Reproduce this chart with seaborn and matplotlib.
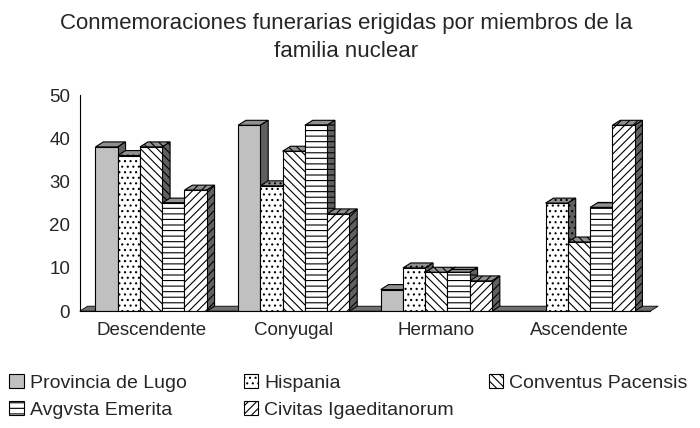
import pandas as pd
import numpy as np
import matplotlib.pyplot as plt
import seaborn as sns
from matplotlib.patches import Polygon, Patch

# datos
categorias = ['Descendente', 'Conyugal', 'Hermano', 'Ascendente']
series = ['Provincia de Lugo', 'Hispania', 'Conventus Pacensis',
          'Avgvsta Emerita', 'Civitas Igaeditanorum']
lugo = [38, 43, 5, 0]
hispania = [36, 29, 10, 25]
conventus = [38, 37, 9, 16]
augusta = [25, 43, 9, 24]
civitas = [28, 22.5, 7, 43]

valores = [lugo, hispania, conventus, augusta, civitas]
df = pd.DataFrame([(c, s, v) for s, vals in zip(series, valores)
                   for c, v in zip(categorias, vals)],
                  columns=['Categoria', 'Serie', 'Valor'])

sns.set_theme(style='white')
plt.rcParams['font.family'] = ['Liberation Sans', 'DejaVu Sans']
plt.rcParams['hatch.linewidth'] = 0.8

fig = plt.figure(figsize=(7, 4.28), dpi=100)
ax = fig.add_axes([0.114, 0.273, 0.815, 0.505])

colores = ['#c0c0c0'] + ['white'] * 4
sns.barplot(data=df, x='Categoria', y='Valor', hue='Serie', order=categorias,
            hue_order=series, palette=colores, width=0.78, saturation=1,
            edgecolor='black', linewidth=0.8, legend=False, ax=ax)

hatches = ['', '...', '\\\\\\\\', '---', '////']
dx, dy = 0.055, 1.15  # profundidad 3D
for cont, h in zip(ax.containers, hatches):
    for p in cont.patches:
        p.set_hatch(h)
        x0, w, hgt = p.get_x(), p.get_width(), p.get_height()
        if hgt <= 0:
            continue
        x1 = x0 + w
        top = Polygon([(x0, hgt), (x1, hgt), (x1 + dx, hgt + dy), (x0 + dx, hgt + dy)],
                      closed=True, facecolor='#909090', edgecolor='black',
                      hatch=h, linewidth=0.8, zorder=p.get_zorder() - 0.1, clip_on=False)
        side = Polygon([(x1, 0), (x1 + dx, dy), (x1 + dx, hgt + dy), (x1, hgt)],
                       closed=True, facecolor='#606060', edgecolor='black',
                       hatch=h, linewidth=0.8, zorder=p.get_zorder() - 0.1, clip_on=False)
        ax.add_patch(top)
        ax.add_patch(side)

# suelo
suelo = Polygon([(-0.5, 0), (3.5, 0), (3.5 + dx, dy), (-0.5 + dx, dy)], closed=True,
                facecolor='#707070', edgecolor='black', linewidth=0.6, zorder=0.5,
                clip_on=False)
ax.add_patch(suelo)

ax.set_xlim(-0.5, 3.5)
ax.set_ylim(0, 50)
ax.set_yticks(range(0, 51, 10))
ax.set_xlabel('')
ax.set_ylabel('')
ax.set_xticks(np.arange(-0.5, 4, 1), minor=True)
ax.tick_params(axis='x', which='major', length=0, labelsize=13.5, pad=8)
ax.tick_params(axis='x', which='minor', length=4, direction='out', width=0.8, color='black')
ax.tick_params(axis='y', length=4, direction='out', width=0.8, color='black',
               labelsize=13.5, pad=3)
for s in ['top', 'right']:
    ax.spines[s].set_visible(False)
for s in ['left', 'bottom']:
    ax.spines[s].set_color('black')
    ax.spines[s].set_linewidth(0.8)

fig.text(0.495, 0.912, 'Conmemoraciones funerarias erigidas por miembros de la\nfamilia nuclear',
         ha='center', va='center', fontsize=16, linespacing=1.4)

# leyenda: cada entrada en su sitio (3 columnas, 2 filas)
pos_x = [-0.006, 0.329, 0.679, -0.006, 0.329]
pos_y = [0.105, 0.105, 0.105, 0.042, 0.042]
for i in range(len(series)):
    h = Patch(facecolor=colores[i], edgecolor='black', hatch=hatches[i], linewidth=0.8)
    fig.legend([h], [series[i]], loc='center left', bbox_to_anchor=(pos_x[i], pos_y[i]),
               frameon=False, fontsize=14, handlelength=0.75, handleheight=0.75,
               handletextpad=0.3, borderpad=0.2)

fig.savefig('out.png', dpi=100)
